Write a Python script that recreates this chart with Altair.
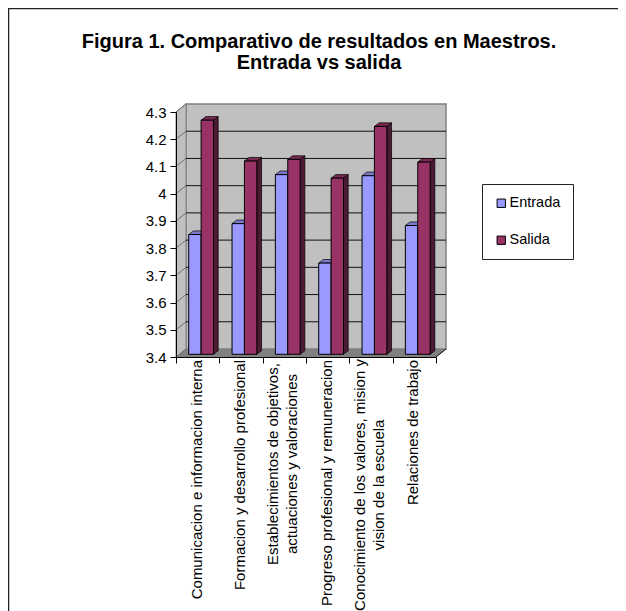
import altair as alt
import pandas as pd

category_lines = [
    ["Comunicacion e informacion interna"],
    ["Formacion y desarrollo profesional"],
    ["Establecimientos de objetivos,", "actuaciones y valoraciones"],
    ["Progreso profesional y remuneracion"],
    ["Conocimiento de los valores, mision y", "vision de la escuela"],
    ["Relaciones de trabajo"],
]
entrada = [3.84, 3.88, 4.06, 3.735, 4.056, 3.873]
salida = [4.26, 4.11, 4.116, 4.047, 4.237, 4.106]
y_ticks = [3.4, 3.5, 3.6, 3.7, 3.8, 3.9, 4.0, 4.1, 4.2, 4.3]
series_names = ["Entrada", "Salida"]
front_colors = ["#9999FF", "#993366"]
side_colors = ["#4D4D80", "#4D1A33"]
top_colors = ["#7A7ACC", "#7A2952"]

W, H = 260, 245
YMIN, YMAX = 3.4, 4.3
PX = 6 / W
PY = (YMAX - YMIN) / H
DX, DY = 10 * PX, 8 * PY          # depth of the box
BDX, BDY = 4.7 * PX, 3.6 * PY     # depth of a bar
BAR = 12.4 * PX
START = 12.7 * PX
LIFT = 2.7 * PY
BASE = YMIN + LIFT

font = "Liberation Sans"
categories = [" ".join(c) for c in category_lines]
xq = alt.X("x:Q", scale=alt.Scale(domain=[0, 6], nice=False, zero=False), axis=None)
yq = alt.Y("y:Q", scale=alt.Scale(domain=[YMIN, YMAX], nice=False, zero=False), title=None,
           axis=alt.Axis(values=y_ticks, format="~g", grid=False, tickSize=6, tickColor="black",
                         domainColor="black", labelColor="black", labelFont=font, labelFontSize=15,
                         labelPadding=4, zindex=1))
band = alt.Scale(domain=categories, paddingInner=0, paddingOuter=0)

front, sides, tops = [], [], []
for s, (name, vals) in enumerate(zip(series_names, [entrada, salida])):
    for i, v in enumerate(vals):
        x0 = i + START + s * BAR
        x1 = x0 + BAR
        top = v + LIFT
        bid = f"{s}-{i}"
        front.append(dict(x=x0, x2=x1, y=top, y2=BASE, serie=name))
        sides += [dict(x=x1, y=top, y2=BASE, bar=bid, shade=side_colors[s]),
                  dict(x=x1 + BDX, y=top + BDY, y2=BASE + BDY, bar=bid, shade=side_colors[s])]
        tops += [dict(y=top, x=x0, x2=x1, bar=bid, shade=top_colors[s]),
                 dict(y=top + BDY, x=x0 + BDX, x2=x1 + BDX, bar=bid, shade=top_colors[s])]

frame = alt.Chart(pd.DataFrame({"a": [0]})).mark_rect(fill="white", stroke="#222222", strokeWidth=1.5).encode(
    x=alt.value(-167.5), x2=alt.value(700), y=alt.value(-103.5), y2=alt.value(800))

wall = alt.Chart(pd.DataFrame([dict(x=DX, x2=6 + DX, y=YMIN + DY, y2=YMAX + DY)])).mark_rect(
    fill="#C0C0C0", stroke="#808080", strokeWidth=1.5).encode(x=xq, x2="x2:Q", y=yq, y2="y2:Q")

left_wall = alt.Chart(pd.DataFrame([dict(x=0, y=YMIN, y2=YMAX), dict(x=DX, y=YMIN + DY, y2=YMAX + DY)])).mark_area(
    color="#C0C0C0", stroke="#808080", strokeWidth=1).encode(x=xq, y=yq, y2="y2:Q")

floor = alt.Chart(pd.DataFrame([dict(y=YMIN, x=0, x2=6), dict(y=YMIN + DY, x=DX, x2=6 + DX)])).mark_area(
    orient="horizontal", color="#808080").encode(y=yq, x=xq, x2="x2:Q")

grid = alt.Chart(pd.DataFrame([dict(x=DX, x2=6 + DX, y=t + DY) for t in y_ticks[1:-1]])).mark_rule(
    color="#111111", strokeWidth=1).encode(x=xq, x2="x2:Q", y=yq)

diag_rows = []
for k, t in enumerate(y_ticks):
    diag_rows += [dict(x=0, y=t, k=k), dict(x=DX, y=t + DY, k=k)]
diag = alt.Chart(pd.DataFrame(diag_rows)).mark_line(color="#707070", strokeWidth=1).encode(
    x=xq, y=yq, detail="k:N")
edge = alt.Chart(pd.DataFrame([dict(x=6, y=YMIN), dict(x=6 + DX, y=YMIN + DY)])).mark_line(
    color="black", strokeWidth=1).encode(x=xq, y=yq)

side_layer = alt.Chart(pd.DataFrame(sides)).mark_area(stroke="black", strokeWidth=0.7).encode(
    x=xq, y=yq, y2="y2:Q", detail="bar:N", fill=alt.Fill("shade:N", scale=None, legend=None))
top_layer = alt.Chart(pd.DataFrame(tops)).mark_area(orient="horizontal", stroke="black", strokeWidth=0.7).encode(
    y=yq, x=xq, x2="x2:Q", detail="bar:N", fill=alt.Fill("shade:N", scale=None, legend=None))
bars = alt.Chart(pd.DataFrame(front)).mark_rect(stroke="black", strokeWidth=1, opacity=1).encode(
    x=xq, x2="x2:Q", y=yq, y2="y2:Q",
    color=alt.Color("serie:N", sort=series_names,
                    scale=alt.Scale(domain=series_names, range=front_colors),
                    legend=alt.Legend(title=None, orient="none", legendX=306, legendY=72,
                                      symbolType="square", symbolSize=70, symbolStrokeColor="black",
                                      symbolStrokeWidth=1, symbolOpacity=1, labelFont=font, labelFontSize=14.5,
                                      labelColor="black", labelOffset=1, rowPadding=22, padding=12,
                                      fillColor="white", strokeColor="#222222")))

cat_axis = alt.Chart(pd.DataFrame({"cat": categories})).mark_rule(opacity=0).encode(
    x=alt.X("cat:N", sort=categories, title=None, scale=band,
            axis=alt.Axis(orient="bottom", tickBand="extent", labels=False,
                          tickSize=6, tickColor="black", domainColor="black", zindex=1)))

# rotated category labels: one-line ones start at the axis, two-line ones are centred on each other
LABEL_TOP = H + 3
CENTRES = {2: H + 107, 4: H + 128}


def label_layer(rows, align, dy, ypos):
    return alt.Chart(pd.DataFrame(rows)).mark_text(
        angle=270, align=align, baseline="middle", font=font, fontSize=15, color="black", dy=dy
    ).encode(x=alt.X("cat:N", scale=band, sort=categories, axis=None), text="txt:N", y=alt.value(ypos))


label_layers = [label_layer([dict(cat=categories[i], txt=c[0]) for i, c in enumerate(category_lines) if len(c) == 1],
                            "right", -1, LABEL_TOP)]
for i, c in enumerate(category_lines):
    if len(c) == 2:
        label_layers.append(label_layer([dict(cat=categories[i], txt=c[0])], "center", -11, CENTRES[i]))
        label_layers.append(label_layer([dict(cat=categories[i], txt=c[1])], "center", 8, CENTRES[i]))

chart = alt.layer(
    frame, wall, left_wall, floor, grid, diag, edge, side_layer, top_layer, bars, cat_axis, *label_layers
).resolve_scale(x="independent").properties(
    width=W, height=H,
    padding={"left": 168, "top": 104, "right": 182, "bottom": 254},
    autosize=alt.AutoSizeParams(type="none"),
    title=alt.TitleParams(text=["Figura 1. Comparativo de resultados en Maestros.", "Entrada vs salida"],
                          font=font, fontSize=20, fontWeight="bold", color="black", anchor="middle",
                          dx=13, offset=-65, lineHeight=20.5),
).configure_view(stroke=None).configure(background="white")

chart.save("out.html", embed_options={"renderer": "svg", "actions": False})
